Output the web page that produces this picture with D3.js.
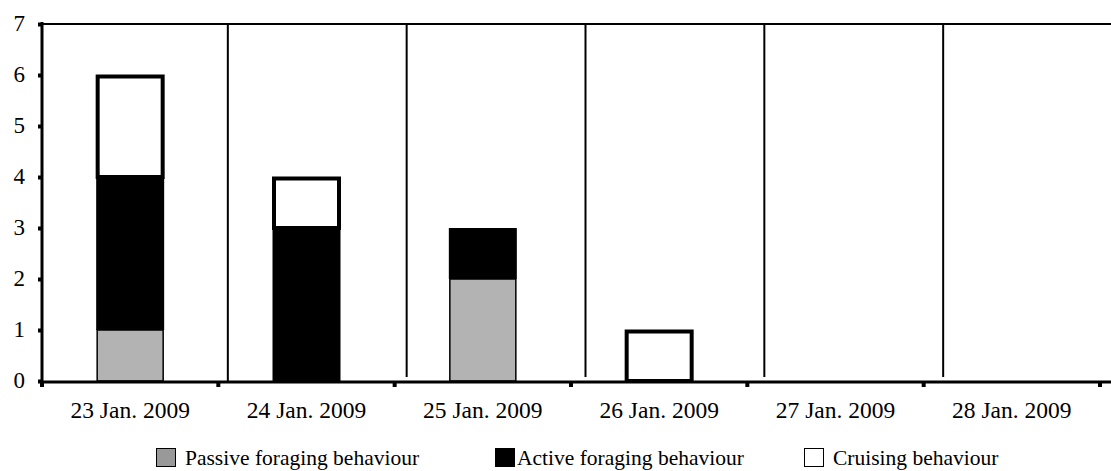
<!DOCTYPE html>
<html>
<head>
<meta charset="utf-8">
<script src="https://cdn.jsdelivr.net/npm/d3@7"></script>
<style>
  body { margin: 0; background: #fff; }
</style>
</head>
<body>
<div id="chart"></div>
<script>
// data
const days = ["23 Jan. 2009", "24 Jan. 2009", "25 Jan. 2009", "26 Jan. 2009", "27 Jan. 2009", "28 Jan. 2009"]
const passive = [1, 0, 2, 0, 0, 0]
const active = [3, 3, 1, 0, 0, 0]
const cruising = [2, 1, 0, 1, 0, 0]
const yTicks = [0, 1, 2, 3, 4, 5, 6, 7]
const legendLabels = ["Passive foraging behaviour", "Active foraging behaviour", "Cruising behaviour"]

const width = 1111, height = 471
const serif = '"Liberation Serif"'

const svg = d3.select("#chart")
    .append("svg")
    .attr("width", width)
    .attr("height", height)

const x = d3.scaleBand().domain(days).range([42, 1100]).paddingInner(0).paddingOuter(0)
// the hand drawn separators sit on a slightly wider grid
const xSep = d3.scaleBand().domain(days).range([49, 1122])
const y = d3.scaleLinear().domain([0, 7]).range([381, 24])

const barW = 68

// top frame line
svg.append("line")
    .attr("x1", 42).attr("x2", width)
    .attr("y1", y(7)).attr("y2", y(7))
    .attr("stroke", "#000").attr("stroke-width", 2)

// separators between days
svg.selectAll(".sep")
    .data(days.slice(0, 5))
    .join("line")
    .attr("class", "sep")
    .attr("x1", d => xSep(d) + xSep.step())
    .attr("x2", d => xSep(d) + xSep.step())
    .attr("y1", y(7))
    .attr("y2", (d, i) => i == 0 ? y(0) : y(0) - 4)
    .attr("stroke", "#000").attr("stroke-width", 2)

// stacked bars
const stacks = days.map((d, i) => ({ day: d, p: passive[i], a: active[i], c: cruising[i] }))

const g = svg.selectAll(".bar")
    .data(stacks)
    .join("g")
    .attr("class", "bar")
    .attr("transform", d => `translate(${x(d.day) + x.bandwidth() / 2 - barW / 2},0)`)

g.filter(d => d.c > 0).append("rect")
    .attr("x", 1.5)
    .attr("width", barW - 3)
    .attr("y", d => y(d.p + d.a + d.c) + 1.5)
    .attr("height", d => y(d.p + d.a) - y(d.p + d.a + d.c) - 1.5)
    .attr("fill", "#fff").attr("stroke", "#000").attr("stroke-width", 4)

g.filter(d => d.a > 0).append("rect")
    .attr("x", 0)
    .attr("width", barW)
    .attr("y", d => y(d.p + d.a))
    .attr("height", d => y(d.p) - y(d.p + d.a))
    .attr("fill", "#000")

g.filter(d => d.p > 0).append("rect")
    .attr("x", 1)
    .attr("width", barW - 2)
    .attr("y", d => y(d.p))
    .attr("height", d => y(0) - y(d.p))
    .attr("fill", "#b3b3b3").attr("stroke", "#000").attr("stroke-width", 1.5)

// axes
const yAxis = svg.append("g")
    .attr("transform", "translate(42,0)")
    .call(d3.axisLeft(y).tickValues(yTicks).tickSize(4).tickPadding(13).tickFormat(d3.format("d")))
yAxis.select(".domain").attr("stroke-width", 3).attr("d", `M0,${y(7) - 2}V${y(0) + 2}`)
yAxis.selectAll(".tick line").attr("stroke-width", 4)
yAxis.attr("font-family", null).attr("font-size", null)
yAxis.selectAll("text")
    .style("font-family", serif)
    .style("font-size", "23px")
    .attr("dy", "0.3em")
    .attr("fill", "#000")

const xAxis = svg.append("g")
    .attr("transform", `translate(0,${y(0) + 1})`)
xAxis.append("line")
    .attr("x1", 40).attr("x2", width)
    .attr("stroke", "#000").attr("stroke-width", 3)
xAxis.selectAll(".xt")
    .data(days.concat([null]))
    .join("rect")
    .attr("class", "xt")
    .attr("x", (d, i) => (d ? x(d) : x.range()[1]) - 2)
    .attr("y", 0)
    .attr("width", 4).attr("height", 5)
    .attr("fill", "#000")
xAxis.selectAll(".xl")
    .data(days)
    .join("text")
    .attr("class", "xl")
    .attr("x", d => x(d) + x.bandwidth() / 2)
    .attr("y", 36)
    .attr("text-anchor", "middle")
    .style("font-family", serif)
    .style("font-size", "23.5px")
    .text(d => d)

// legend
const legendX = [156, 495, 804]
const legendTextX = [29, 22, 29]
const legendFill = ["#999", "#000", "#fff"]
const leg = svg.selectAll(".leg")
    .data(legendLabels)
    .join("g")
    .attr("class", "leg")
    .attr("transform", (d, i) => `translate(${legendX[i]},448)`)
leg.append("rect")
    .attr("x", 0.5).attr("y", 0.5)
    .attr("width", 19).attr("height", 18)
    .attr("fill", (d, i) => legendFill[i])
    .attr("stroke", "#000").attr("stroke-width", 1)
leg.append("text")
    .attr("x", (d, i) => legendTextX[i])
    .attr("y", 17)
    .style("font-family", serif)
    .style("font-size", "21.5px")
    .text(d => d)
</script>
</body>
</html>
